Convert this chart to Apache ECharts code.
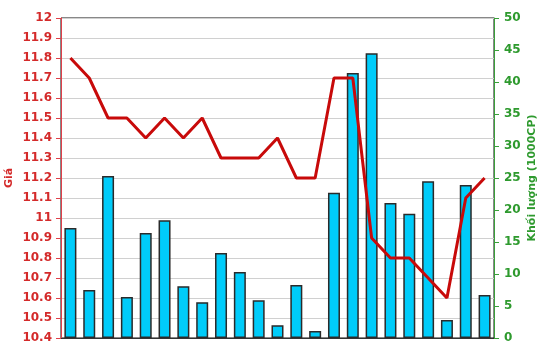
<!DOCTYPE html>
<html>
<head>
<meta charset="utf-8">
<script src="https://cdn.jsdelivr.net/npm/echarts@6/dist/echarts.min.js"></script>
<style>html,body{margin:0;padding:0;background:#fff}#c{width:550px;height:364px}</style>
</head>
<body>
<div id="c"></div>
<script>
var categories = ['1','2','3','4','5','6','7','8','9','10','11','12','13','14','15','16','17','18','19','20','21','22','23'];
var priceValues = [11.8, 11.7, 11.5, 11.5, 11.4, 11.5, 11.4, 11.5, 11.3, 11.3, 11.3, 11.4, 11.2, 11.2, 11.7, 11.7, 10.9, 10.8, 10.8, 10.7, 10.6, 11.1, 11.2];
var volumeValues = [17.2, 7.5, 25.3, 6.4, 16.4, 18.4, 8.1, 5.6, 13.3, 10.3, 5.9, 2.0, 8.3, 1.1, 22.7, 41.4, 44.5, 21.1, 19.4, 24.5, 2.8, 23.9, 6.7];
var priceAxisName = 'Giá';
var volumeAxisName = 'Khối lượng (1000CP)';

var chart = echarts.init(document.getElementById('c'), null, {renderer: 'canvas'});
var font = 'DejaVu Sans';
chart.setOption({
  animation: false,
  grid: {left: 61, right: 56, top: 18, bottom: 26, containLabel: false, outerBoundsMode: 'none',
    show: true, borderColor: '#111', borderWidth: 1, backgroundColor: 'transparent'},
  xAxis: {
    type: 'category', data: categories, boundaryGap: true,
    axisLabel: {show: false}, axisTick: {show: false},
    axisLine: {lineStyle: {color: '#333', width: 1}},
    splitLine: {show: false}
  },
  yAxis: [
    {
      type: 'value', min: 10.4, max: 12, interval: 0.1, position: 'left',
      name: priceAxisName, nameLocation: 'middle', nameGap: 46, nameRotate: 90, nameMoveOverlap: false,
      nameTextStyle: {color: '#d42a2a', fontFamily: font, fontWeight: 'bold', fontSize: 11},
      axisLine: {show: true, lineStyle: {color: '#e0404a', width: 1}},
      axisTick: {show: true, length: 5, lineStyle: {color: '#e0404a'}},
      axisLabel: {color: '#d42a2a', fontFamily: font, fontWeight: 'bold', fontSize: 12, margin: 9,
        formatter: function (v) { return String(+(+v).toFixed(1)); }},
      splitLine: {show: true, lineStyle: {color: '#d0d0d0', width: 1}}
    },
    {
      type: 'value', min: 0, max: 50, interval: 5, position: 'right',
      name: volumeAxisName, nameLocation: 'middle', nameGap: 33, nameRotate: 90, nameMoveOverlap: false,
      nameTextStyle: {color: '#2e9a2e', fontFamily: font, fontWeight: 'bold', fontSize: 11},
      axisLine: {show: true, lineStyle: {color: '#3aa03a', width: 1}},
      axisTick: {show: true, length: 5, lineStyle: {color: '#3aa03a'}},
      axisLabel: {color: '#2e9a2e', fontFamily: font, fontWeight: 'bold', fontSize: 12, margin: 10},
      splitLine: {show: false}
    }
  ],
  series: [
    {
      type: 'bar', yAxisIndex: 1, data: volumeValues, barWidth: 12,
      itemStyle: {color: '#00ccfa', borderColor: '#2a2a2a', borderWidth: 1.5}
    },
    {
      type: 'line', yAxisIndex: 0, data: priceValues, symbol: 'none', z: 5,
      lineStyle: {color: '#c80a0a', width: 3}
    }
  ]
});
</script>
</body>
</html>
